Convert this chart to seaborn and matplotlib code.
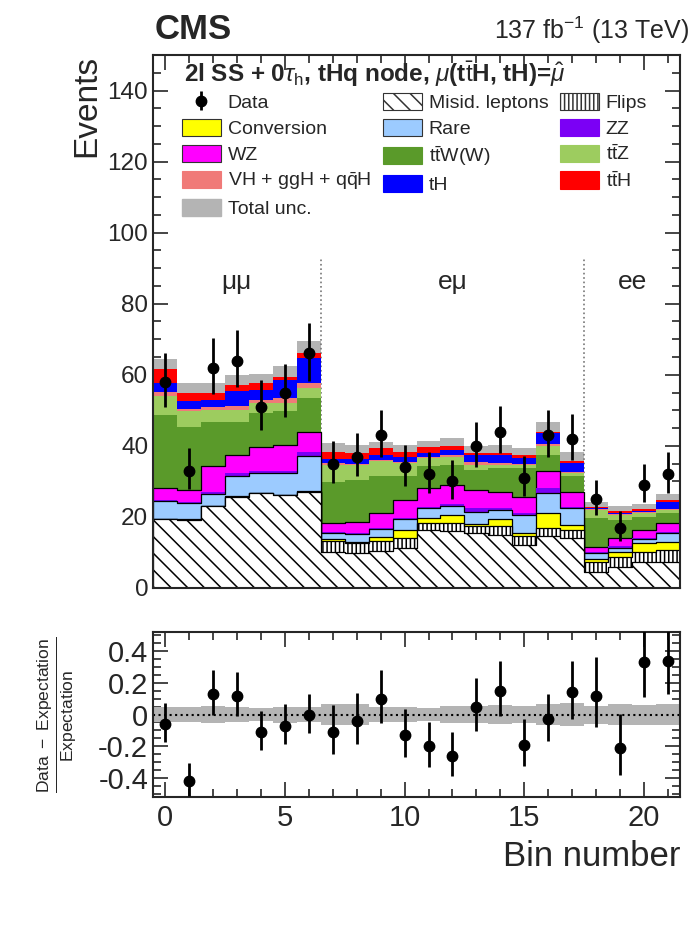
import numpy as np
import matplotlib
matplotlib.use("Agg")
import matplotlib.pyplot as plt
import seaborn as sns
from matplotlib.patches import Patch
from matplotlib.ticker import MultipleLocator

# bin index and observed events
bins = list(range(22))
data = [58, 33, 62, 64, 51, 55, 66, 35, 37, 43, 34, 32, 30, 40, 44, 31, 43, 42, 25, 17, 29, 32]

# expected yields per process (stacked bottom -> top)
misid = [19.4, 19.2, 23.0, 25.7, 26.7, 26.2, 27.1, 10.2, 9.8, 10.5, 11.2, 16.3, 15.9, 15.4, 14.9, 12.1, 14.5, 14.0, 4.6, 6.0, 7.4, 7.4]
flips = [0.0, 0.0, 0.0, 0.0, 0.0, 0.0, 0.0, 2.9, 2.8, 2.6, 2.8, 2.1, 2.5, 2.1, 2.4, 2.5, 2.3, 2.4, 2.8, 2.8, 2.8, 3.3]
conv = [0.1, 0.1, 0.1, 0.1, 0.1, 0.1, 0.1, 0.6, 0.4, 1.2, 2.3, 1.2, 2.2, 0.4, 2.0, 0.8, 4.2, 1.3, 0.8, 1.2, 2.4, 2.3]
rare = [5.0, 4.5, 3.4, 5.6, 5.5, 6.0, 10.0, 1.7, 2.1, 2.3, 3.0, 3.0, 2.5, 3.6, 2.7, 5.2, 5.8, 4.7, 1.7, 1.3, 1.3, 2.4]
zz = [0.3, 0.3, 0.5, 0.9, 0.7, 0.7, 1.2, 0.3, 0.3, 0.3, 0.3, 0.3, 0.6, 0.9, 0.6, 0.6, 1.3, 0.5, 0.3, 0.4, 0.3, 0.4]
wz = [3.3, 3.5, 7.2, 5.2, 6.8, 7.3, 5.6, 2.5, 3.3, 4.1, 5.2, 5.2, 5.3, 5.2, 4.5, 4.5, 4.7, 4.2, 1.4, 2.3, 2.1, 2.4]
ttw = [20.6, 17.8, 12.6, 9.3, 9.4, 9.4, 9.4, 11.7, 11.7, 10.4, 6.6, 6.1, 5.6, 5.6, 6.6, 8.0, 4.7, 4.3, 8.0, 5.2, 3.8, 2.8]
ttz = [5.4, 4.3, 3.3, 3.3, 2.8, 2.3, 2.8, 4.7, 4.2, 4.2, 3.7, 2.4, 2.4, 1.4, 0.9, 0.9, 2.5, 0.9, 2.4, 1.4, 1.0, 1.0]
vh = [1.1, 0.7, 0.9, 1.2, 0.9, 1.5, 1.4, 0.5, 0.4, 0.4, 0.3, 0.4, 0.4, 0.9, 0.5, 0.3, 0.4, 0.3, 0.2, 0.2, 0.2, 0.3]
th = [2.5, 2.1, 2.0, 4.0, 2.8, 5.1, 7.1, 1.1, 1.2, 1.5, 1.4, 1.0, 1.4, 2.0, 2.4, 1.6, 3.2, 2.5, 0.3, 0.4, 0.5, 2.0]
tth = [3.9, 2.5, 1.8, 1.9, 2.0, 0.9, 1.4, 2.2, 1.7, 1.8, 1.6, 1.8, 1.2, 0.4, 0.4, 0.9, 0.4, 0.5, 0.4, 0.4, 0.4, 0.5]
unc = [2.8, 2.7, 2.8, 2.6, 2.5, 3.0, 3.3, 2.5, 2.4, 1.8, 1.9, 1.7, 2.2, 2.0, 2.2, 1.9, 2.8, 2.6, 1.3, 1.4, 1.4, 1.6]

# (data - expectation) / expectation as shown in the lower panel
ratio = [-0.06, -0.42, 0.13, 0.12, -0.11, -0.07, 0.0, -0.11, -0.04, 0.10, -0.13, -0.20,
         -0.26, 0.05, 0.15, -0.19, -0.03, 0.14, 0.12, -0.21, 0.33, 0.34]

categories = ["μμ", "eμ", "ee"]
cat_pos = [3, 12, 19.5]
dividers = [6.5, 17.5]

procs = [
    ("Misid. leptons", misid, "white", "black", 0.9, "\\\\"),
    ("Flips", flips, "white", "black", 0.9, "||||"),
    ("Conversion", conv, "#ffff00", "black", 0.9, None),
    ("Rare", rare, "#9ccbff", "black", 0.9, None),
    ("ZZ", zz, "#7b00f5", "#7b00f5", 0.0, None),
    ("WZ", wz, "#ff00ff", "black", 0.9, None),
    (r"t$\bar{\rm t}$W(W)", ttw, "#5a9a2a", "#5a9a2a", 0.0, None),
    (r"t$\bar{\rm t}$Z", ttz, "#9dcc5f", "#9dcc5f", 0.0, None),
    (r"VH + ggH + q$\bar{\rm q}$H", vh, "#f07a78", "#f07a78", 0.0, None),
    ("tH", th, "#0000ff", "#0000ff", 0.0, None),
    (r"t$\bar{\rm t}$H", tth, "#ff0000", "#ff0000", 0.0, None),
]

sns.set_style("ticks")
plt.rcParams["font.family"] = ["Liberation Sans", "DejaVu Sans"]
plt.rcParams["mathtext.fontset"] = "custom"
plt.rcParams["mathtext.rm"] = "Liberation Sans"
plt.rcParams["mathtext.it"] = "Liberation Sans:italic"
plt.rcParams["mathtext.bf"] = "Liberation Sans:bold"
plt.rcParams["axes.unicode_minus"] = False
plt.rcParams["hatch.linewidth"] = 1.1
plt.rcParams["hatch.color"] = "black"

fig = plt.figure(figsize=(6.94, 9.40), dpi=100)
ax = fig.add_axes([0.2205, 0.3745, 0.7594, 0.567])
rax = fig.add_axes([0.2205, 0.1521, 0.7594, 0.1755])

stack = np.array([p[1] for p in procs])
cum = np.cumsum(stack, axis=0)
total = cum[-1]
edges = np.arange(-0.5, 22.0, 1.0)

# total uncertainty band, behind the stack
ax.fill_between(edges, np.append(total - np.array(unc), total[-1] - unc[-1]),
                np.append(total + np.array(unc), total[-1] + unc[-1]),
                step="post", color="#b4b4b4", lw=0, zorder=1)

# stacked histograms, drawn top-down as cumulative sums
for k in reversed(range(len(procs))):
    name, vals, fc, ec, lw, hatch = procs[k]
    sns.histplot(x=bins, weights=cum[k], discrete=True, element="step", fill=True,
                 color=fc, alpha=1, edgecolor=ec, linewidth=lw, ax=ax, zorder=2)
    if hatch:
        ax.collections[-1].set_hatch(hatch)

for xd in dividers:
    ax.plot([xd, xd], [0, 93], ls=":", color="#777777", lw=1.2, zorder=1.5)
for lab, xp in zip(categories, cat_pos):
    ax.text(xp, 86, lab, ha="center", va="center", fontsize=19)

d = np.array(data, dtype=float)
lo = np.sqrt(d + 0.25) - 0.5
hi = np.sqrt(d + 0.25) + 0.5
eb = ax.errorbar(bins, data, yerr=[lo, hi], fmt="o", color="black", ms=7.5,
                 elinewidth=2, capsize=0, zorder=5, label="Data")

ax.set_xlim(-0.5, 21.5)
ax.set_ylim(0, 150)
ax.set_xlabel("")
ax.set_ylabel("Events", loc="top", fontsize=24)
ax.set_xticklabels([])
ax.xaxis.set_major_locator(MultipleLocator(5))
ax.xaxis.set_minor_locator(MultipleLocator(1))
ax.yaxis.set_major_locator(MultipleLocator(20))
ax.yaxis.set_minor_locator(MultipleLocator(5))
ax.tick_params(which="both", direction="in", top=True, right=True, labelsize=17.5, width=1.2)
ax.tick_params(which="major", length=11)
ax.tick_params(which="minor", length=6)
for s in ax.spines.values():
    s.set_linewidth(1.5)

# header text
ax.text(0.058, 0.964, r"2l SS + 0$\tau_{\rm h}$, tHq node, $\mu$(t$\bar{\rm t}$H, tH)=$\hat{\mu}$",
        transform=ax.transAxes, fontsize=17.5, fontweight="bold", va="center")

# legend
h = {}
for name, vals, fc, ec, lw, hatch in procs:
    h[name] = Patch(facecolor=fc, edgecolor="#333333" if lw > 0 else fc, lw=0.8, hatch=hatch)
h["Total unc."] = Patch(facecolor="#b4b4b4", edgecolor="#b4b4b4")
order = ["Data", "Conversion", "WZ", r"VH + ggH + q$\bar{\rm q}$H", "Total unc.",
         "Misid. leptons", "Rare", r"t$\bar{\rm t}$W(W)", "tH",
         "Flips", "ZZ", r"t$\bar{\rm t}$Z", r"t$\bar{\rm t}$H"]
handles = [eb if n == "Data" else h[n] for n in order]
ax.legend(handles, order, ncol=3, loc="upper left", bbox_to_anchor=(0.055, 0.929),
          frameon=False, fontsize=14, handlelength=2.0, handleheight=1.0,
          handletextpad=0.35, columnspacing=0.6, labelspacing=0.34,
          borderpad=0, borderaxespad=0)

fig.text(0.223, 0.958, "CMS", fontsize=25, fontweight="bold", va="baseline")
fig.text(0.993, 0.958, r"137 fb$^{-1}$ (13 TeV)", fontsize=18, ha="right", va="baseline")

# ratio panel
rel = np.array(unc) / total
rax.fill_between(edges, np.append(-rel, -rel[-1]), np.append(rel, rel[-1]),
                 step="post", color="#b4b4b4", lw=0, zorder=1)
rax.axhline(0, ls=":", color="black", lw=1.5, zorder=2)
rax.errorbar(bins, ratio, yerr=[lo / total, hi / total], fmt="o", color="black", ms=7.5,
             elinewidth=2, capsize=0, zorder=5)
rax.set_xlim(-0.5, 21.5)
rax.set_ylim(-0.52, 0.52)
rax.xaxis.set_major_locator(MultipleLocator(5))
rax.xaxis.set_minor_locator(MultipleLocator(1))
rax.yaxis.set_minor_locator(MultipleLocator(0.05))
rax.set_yticks([-0.4, -0.2, 0, 0.2, 0.4])
rax.set_yticklabels(["-0.4", "-0.2", "0", "0.2", "0.4"])
rax.tick_params(which="both", direction="in", top=True, right=True, labelsize=21, width=1.2)
rax.tick_params(which="major", length=11)
rax.tick_params(which="minor", length=6)
rax.tick_params(axis="x", pad=5)
for s in rax.spines.values():
    s.set_linewidth(1.5)
rax.set_xlabel("Bin number", loc="right", fontsize=25, labelpad=6)
rax.set_ylabel(r"$\frac{\rm Data\ -\ Expectation}{\rm Expectation}$", fontsize=18, labelpad=14)

fig.savefig("out.png", dpi=100)
